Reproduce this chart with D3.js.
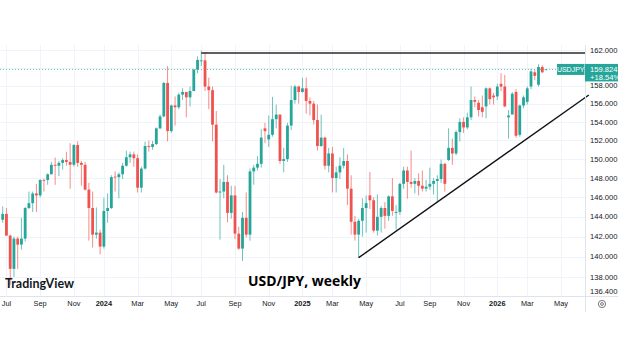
<!DOCTYPE html>
<html>
<head>
<meta charset="utf-8">
<script src="https://cdn.jsdelivr.net/npm/d3@7"></script>
<style>
  html, body { margin: 0; padding: 0; background: #fff; }
  svg { display: block; }
</style>
</head>
<body>
<svg id="chart" width="636" height="358"></svg>
<script>
// weekly USD/JPY candles, week starting Monday
var weekStart = [
  "2023-06-26","2023-07-03","2023-07-10","2023-07-17","2023-07-24","2023-07-31","2023-08-07","2023-08-14","2023-08-21","2023-08-28",
  "2023-09-04","2023-09-11","2023-09-18","2023-09-25","2023-10-02","2023-10-09","2023-10-16","2023-10-23","2023-10-30","2023-11-06",
  "2023-11-13","2023-11-20","2023-11-27","2023-12-04","2023-12-11","2023-12-18","2023-12-25","2024-01-01","2024-01-08","2024-01-15",
  "2024-01-22","2024-01-29","2024-02-05","2024-02-12","2024-02-19","2024-02-26","2024-03-04","2024-03-11","2024-03-18","2024-03-25",
  "2024-04-01","2024-04-08","2024-04-15","2024-04-22","2024-04-29","2024-05-06","2024-05-13","2024-05-20","2024-05-27","2024-06-03",
  "2024-06-10","2024-06-17","2024-06-24","2024-07-01","2024-07-08","2024-07-15","2024-07-22","2024-07-29","2024-08-05","2024-08-12",
  "2024-08-19","2024-08-26","2024-09-02","2024-09-09","2024-09-16","2024-09-23","2024-09-30","2024-10-07","2024-10-14","2024-10-21",
  "2024-10-28","2024-11-04","2024-11-11","2024-11-18","2024-11-25","2024-12-02","2024-12-09","2024-12-16","2024-12-23","2024-12-30",
  "2025-01-06","2025-01-13","2025-01-20","2025-01-27","2025-02-03","2025-02-10","2025-02-17","2025-02-24","2025-03-03","2025-03-10",
  "2025-03-17","2025-03-24","2025-03-31","2025-04-07","2025-04-14","2025-04-21","2025-04-28","2025-05-05","2025-05-12","2025-05-19",
  "2025-05-26","2025-06-02","2025-06-09","2025-06-16","2025-06-23","2025-06-30","2025-07-07","2025-07-14","2025-07-21","2025-07-28",
  "2025-08-04","2025-08-11","2025-08-18","2025-08-25","2025-09-01","2025-09-08","2025-09-15","2025-09-22","2025-09-29","2025-10-06",
  "2025-10-13","2025-10-20","2025-10-27","2025-11-03","2025-11-10","2025-11-17","2025-11-24","2025-12-01","2025-12-08","2025-12-15",
  "2025-12-22","2025-12-29","2026-01-05","2026-01-12","2026-01-19","2026-01-26","2026-02-02","2026-02-09","2026-02-16","2026-02-23",
  "2026-03-02","2026-03-09","2026-03-16","2026-03-23","2026-03-30","2026-04-06"
];
var opens = [
  143.7,144.3,142.1,138.8,141.8,141.2,141.8,144.9,145.4,146.4,
  146.2,147.8,147.8,148.4,149.4,149.3,149.6,149.9,149.7,149.4,
  151.5,149.6,149.4,146.8,144.9,142.2,142.4,141.0,144.6,144.9,
  148.15,148.1,148.4,149.3,150.2,150.5,150.1,147.0,149.0,151.4,
  151.3,151.6,153.3,154.6,158.3,153.0,155.8,155.6,157.0,157.3,
  156.7,157.4,159.8,160.75,160.85,157.9,157.5,153.7,146.5,146.6,
  147.6,144.4,146.2,142.3,140.8,143.9,142.2,148.7,149.1,149.5,
  153.3,152.1,152.6,154.3,154.8,149.8,150.0,153.6,156.4,157.9,
  157.3,157.7,156.3,156.0,154.2,151.4,152.3,149.3,150.6,148.0,
  148.6,149.3,149.8,146.9,143.5,142.2,143.6,144.9,146.2,145.7,
  142.6,144.0,144.9,144.1,146.1,144.4,144.5,147.4,148.8,147.6,
  147.4,147.7,147.2,146.9,147.1,147.4,147.7,147.9,149.5,149.9,
  151.2,150.6,152.9,154.0,153.4,154.5,156.4,156.1,155.6,155.7,
  157.7,156.9,156.8,158.2,157.9,154.5,154.8,157.3,152.6,155.8,
  156.2,157.9,159.5,158.1,160.1,159.82
];
var highs = [
  145.07,144.9,142.2,142.0,142.0,143.9,145.0,146.6,146.6,147.4,
  147.9,147.95,148.5,149.7,150.16,149.8,150.1,150.78,151.7,151.6,
  151.9,149.8,149.7,147.5,146.6,144.96,142.7,145.97,146.4,148.3,
  148.7,148.6,149.6,150.9,150.8,150.8,150.5,149.2,151.86,151.97,
  151.95,153.4,154.8,158.4,160.2,155.9,156.8,157.2,157.7,157.3,
  157.9,159.9,161.3,161.95,161.8,158.9,157.9,155.2,147.9,149.4,
  148.3,147.2,147.2,143.0,144.5,146.5,149.0,149.4,150.3,153.2,
  153.9,154.7,156.75,155.9,154.8,151.2,153.9,158.0,158.1,158.0,
  158.87,158.9,156.7,156.3,155.9,154.8,152.4,151.2,151.3,149.2,
  150.2,151.2,150.5,148.3,144.1,143.8,145.9,146.2,148.65,146.0,
  146.3,145.1,145.5,146.2,148.0,145.2,147.5,149.2,149.2,150.9,
  148.0,148.5,148.8,147.8,149.1,148.0,148.3,149.95,149.6,153.3,
  152.2,153.1,154.4,154.5,155.0,157.9,156.8,156.4,156.9,157.8,
  157.8,157.2,158.2,159.4,159.2,155.3,157.3,157.6,155.9,156.9,
  157.9,159.9,159.8,160.4,160.3,159.85
];
var lows = [
  143.4,142.1,137.24,138.0,138.8,140.7,141.5,144.8,144.5,144.5,
  146.0,146.6,147.3,148.4,147.3,148.2,148.9,149.3,146.9,149.2,
  149.2,147.2,146.7,141.6,140.9,141.8,140.25,140.8,143.4,144.8,
  146.6,145.9,147.9,149.2,149.6,149.2,146.5,146.5,148.9,150.8,
  151.0,151.5,153.2,154.5,151.9,152.8,153.6,155.4,156.4,154.5,
  155.7,157.4,159.4,160.2,157.4,155.4,151.9,146.4,141.7,145.9,
  143.45,143.8,141.75,140.7,139.58,141.9,141.6,147.3,148.8,149.1,
  151.7,151.3,152.4,153.3,149.5,148.6,149.7,153.1,156.0,156.0,
  157.2,154.9,154.7,153.7,150.9,151.3,148.9,148.6,146.5,146.5,
  147.9,149.0,145.2,142.2,141.6,139.89,142.0,142.4,144.8,142.4,
  142.1,142.4,142.8,143.6,144.1,142.7,144.2,146.9,145.85,147.0,
  146.4,146.2,146.6,146.6,146.8,146.3,145.5,147.5,146.6,149.8,
  149.4,150.4,151.9,152.8,153.2,154.2,155.6,154.6,154.5,154.4,
  155.9,155.9,156.4,157.4,155.6,152.2,154.9,152.3,152.4,155.5,
  155.9,157.6,158.6,157.9,159.4,159.8
];
var closes = [
  144.3,142.1,138.8,141.8,141.2,141.8,144.9,145.4,146.4,146.2,
  147.8,147.75,148.4,149.4,149.3,149.6,149.9,149.7,149.4,151.5,
  149.6,149.4,146.8,144.9,142.2,142.4,141.0,144.6,144.9,148.1,
  148.1,148.4,149.3,150.2,150.5,150.1,147.0,149.0,151.4,151.3,
  151.6,153.3,154.6,158.3,153.0,155.8,155.6,157.0,157.3,156.7,
  157.4,159.8,160.9,160.85,157.9,157.5,153.7,146.5,146.6,147.6,
  144.4,146.2,142.3,140.8,143.9,142.2,148.7,149.1,149.5,152.3,
  153.0,152.6,154.3,154.8,149.8,150.0,153.6,156.4,157.9,157.3,
  157.7,156.3,156.0,154.2,151.4,152.3,149.3,150.6,148.0,148.6,
  149.3,149.8,146.9,143.5,142.2,143.6,144.9,145.4,145.7,142.6,
  144.0,144.9,144.1,146.1,144.6,144.5,147.4,148.8,147.6,147.4,
  147.7,147.2,146.9,147.1,147.4,147.7,147.9,149.5,147.4,151.2,
  150.6,152.9,154.0,153.4,154.5,156.4,156.2,155.3,155.1,157.7,
  156.5,156.7,157.9,157.9,155.7,154.7,157.1,152.5,155.8,156.7,
  157.7,159.6,159.1,160.1,159.5,159.824
];

// axis labels
var priceTicks = [138, 140, 142, 144, 146, 148, 150, 152, 154, 156, 158, 162];
var priceGrid = [138, 140, 142, 144, 146, 148, 150, 152, 154, 156, 158, 160, 162];
var bottomPrice = 136.4;
var timeTicks = ["2023-07","2023-09","2023-11","2024-01","2024-03","2024-05","2024-07","2024-09","2024-11",
                 "2025-01","2025-03","2025-05","2025-07","2025-09","2025-11","2026-01","2026-03","2026-05"];
var lastPrice = 159.824;
var lastChange = "+18.54%";
var symbol = "USDJPY";
var resistanceLevel = 161.7, resistanceFrom = "2024-07-01";
var trendFrom = ["2025-04-21", 139.9], trendTo = ["2026-06-25", 156.96];

var parseDay = d3.timeParse("%Y-%m-%d");
var parseMonth = d3.timeParse("%Y-%m");

var candles = weekStart.map(function(d, i) {
  return { date: parseDay(d), o: opens[i], h: highs[i], l: lows[i], c: closes[i] };
});

var svg = d3.select("#chart");
var W = 636, H = 358;
var plot = { left: 0, right: 585, top: 45, bottom: 296 };

var x = d3.scaleTime()
  .domain([parseDay("2023-06-26"), parseDay("2026-04-06")])
  .range([2.7, 546]);
var y = d3.scaleLog()
  .domain([bottomPrice, 162])
  .range([293.5, 50.3]);

var up = "#26a69a", down = "#ef5350";
var fontUI = "'Liberation Sans', 'DejaVu Sans', sans-serif";

svg.append("rect").attr("width", W).attr("height", H).attr("fill", "#fff");

svg.append("defs").append("clipPath").attr("id", "plotClip")
  .append("rect")
  .attr("x", plot.left).attr("y", plot.top)
  .attr("width", plot.right - plot.left).attr("height", plot.bottom - plot.top);

/* grid */
var tickDates = timeTicks.map(function(m) { return d3.timeMonday.ceil(parseMonth(m)); });

var grid = svg.append("g").attr("clip-path", "url(#plotClip)");
grid.selectAll("line.h").data(priceGrid).enter().append("line")
  .attr("x1", plot.left).attr("x2", plot.right)
  .attr("y1", function(d) { return Math.round(y(d)) + 0.5; })
  .attr("y2", function(d) { return Math.round(y(d)) + 0.5; })
  .attr("stroke", "#f0f3fa").attr("stroke-width", 1);
grid.selectAll("line.v").data(tickDates).enter().append("line")
  .attr("x1", function(d) { return Math.round(x(d)) + 0.5; })
  .attr("x2", function(d) { return Math.round(x(d)) + 0.5; })
  .attr("y1", plot.top).attr("y2", plot.bottom)
  .attr("stroke", "#f0f3fa").attr("stroke-width", 1);

/* last price dotted line */
grid.append("line")
  .attr("x1", plot.left).attr("x2", 557)
  .attr("y1", y(lastPrice)).attr("y2", y(lastPrice))
  .attr("stroke", up).attr("stroke-opacity", 0.7)
  .attr("stroke-width", 1).attr("stroke-dasharray", "1,2");

/* candles */
var cg = svg.append("g").attr("clip-path", "url(#plotClip)");
var bar = cg.selectAll("g.c").data(candles).enter().append("g");
bar.append("line")
  .attr("x1", function(d) { return x(d.date); })
  .attr("x2", function(d) { return x(d.date); })
  .attr("y1", function(d) { return y(d.h); })
  .attr("y2", function(d) { return y(d.l); })
  .attr("stroke", function(d) { return d.c >= d.o ? up : down; })
  .attr("stroke-opacity", 0.75)
  .attr("stroke-width", 0.9);
bar.append("rect")
  .attr("x", function(d) { return x(d.date) - 1.4; })
  .attr("width", 2.8)
  .attr("y", function(d) { return y(Math.max(d.o, d.c)); })
  .attr("height", function(d) { return Math.max(0.8, Math.abs(y(d.o) - y(d.c))); })
  .attr("fill", function(d) { return d.c >= d.o ? up : down; });

/* resistance and trend lines */
svg.append("line")
  .attr("x1", x(parseDay(resistanceFrom))).attr("x2", plot.right)
  .attr("y1", y(resistanceLevel)).attr("y2", y(resistanceLevel))
  .attr("stroke", "#2a2a2a").attr("stroke-width", 1.5);
svg.append("line")
  .attr("x1", x(parseDay(trendFrom[0]))).attr("y1", y(trendFrom[1]))
  .attr("x2", x(parseDay(trendTo[0]))).attr("y2", y(trendTo[1]))
  .attr("stroke", "#111").attr("stroke-width", 1.4);

/* frame lines */
svg.append("line")
  .attr("x1", plot.right + 0.5).attr("x2", plot.right + 0.5)
  .attr("y1", plot.top).attr("y2", 312)
  .attr("stroke", "#e0e3eb");
svg.append("line")
  .attr("x1", 0).attr("x2", 618)
  .attr("y1", plot.bottom + 0.5).attr("y2", plot.bottom + 0.5)
  .attr("stroke", "#e0e3eb");

/* price axis */
var pa = svg.append("g").attr("font-family", fontUI).attr("font-size", 7.6).attr("fill", "#131722");
pa.selectAll("text").data(priceTicks).enter().append("text")
  .attr("x", 590).attr("y", function(d) { return y(d); })
  .attr("dy", "0.35em")
  .text(function(d) { return d3.format(".3f")(d); });
pa.append("text").attr("x", 590).attr("y", y(bottomPrice)).attr("dy", "0.1em")
  .text(d3.format(".3f")(bottomPrice));

/* time axis */
var fmtMonth = d3.timeFormat("%b"), fmtYear = d3.timeFormat("%Y");
svg.append("g").attr("font-family", fontUI).attr("font-size", 7.4).attr("fill", "#131722")
  .selectAll("text").data(tickDates).enter().append("text")
  .attr("x", function(d) { return x(d); })
  .attr("y", 306)
  .attr("text-anchor", "middle")
  .attr("font-weight", function(d) { return d.getMonth() < 1 ? "bold" : "normal"; })
  .text(function(d) { return d.getMonth() < 1 ? fmtYear(d) : fmtMonth(d); });

/* settings icon */
var ic = svg.append("g").attr("transform", "translate(602,304)").attr("fill", "none").attr("stroke", "#555").attr("stroke-width", 0.8);
ic.append("circle").attr("r", 3.6);
ic.append("circle").attr("r", 1.4);

/* last price labels */
var yl = y(lastPrice);
svg.append("rect").attr("x", 557).attr("y", yl - 5.5).attr("width", 27.5).attr("height", 11).attr("fill", up);
svg.append("text").attr("x", 570.7).attr("y", yl).attr("dy", "0.35em")
  .attr("text-anchor", "middle").attr("font-family", fontUI).attr("font-size", 7).attr("fill", "#fff")
  .text(symbol);
svg.append("rect").attr("x", 585).attr("y", yl - 5.5).attr("width", 33).attr("height", 17.5).attr("fill", up);
svg.append("text").attr("x", 590).attr("y", yl).attr("dy", "0.35em")
  .attr("font-family", fontUI).attr("font-size", 7.6).attr("fill", "#fff")
  .text(d3.format(".3f")(lastPrice));
svg.append("text").attr("x", 590).attr("y", yl + 7.6).attr("dy", "0.35em")
  .attr("font-family", fontUI).attr("font-size", 7.6).attr("fill", "#fff")
  .text(lastChange);

/* captions */
svg.append("text").attr("x", 5).attr("y", 288)
  .attr("font-family", "Lato, 'Open Sans', sans-serif").attr("font-weight", "bold")
  .attr("font-size", 12.5).attr("fill", "#131722")
  .text("TradingView");
svg.append("text").attr("x", 248).attr("y", 285.5)
  .attr("font-family", "'Open Sans', 'Noto Sans', sans-serif").attr("font-weight", "bold")
  .attr("font-size", 15).attr("fill", "#000")
  .attr("textLength", 113).attr("lengthAdjust", "spacingAndGlyphs")
  .text("USD/JPY, weekly");
</script>
</body>
</html>
